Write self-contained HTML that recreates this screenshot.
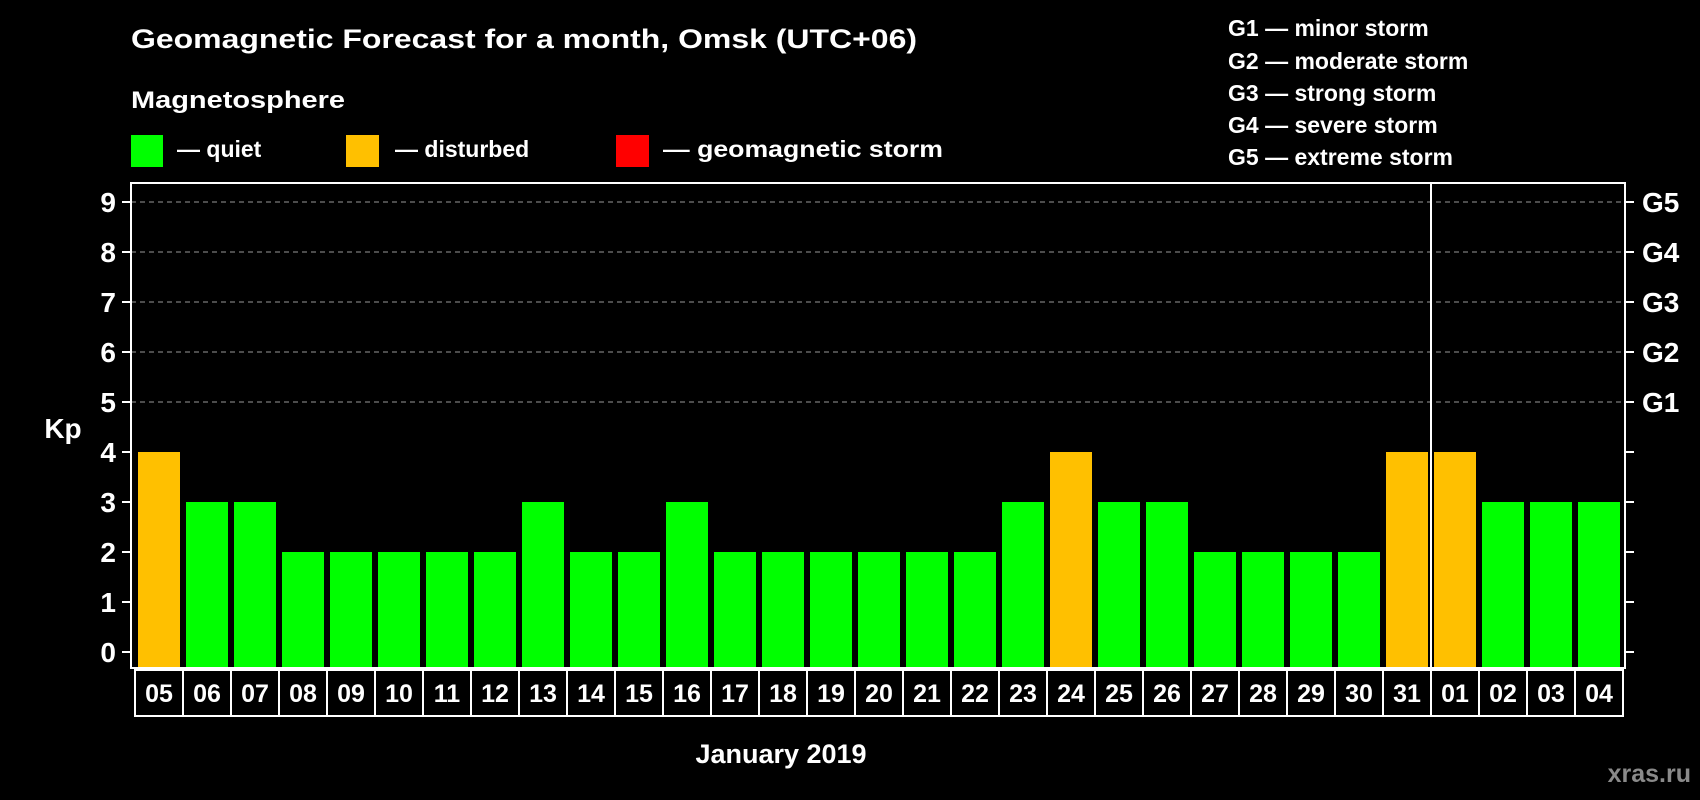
<!DOCTYPE html>
<html><head><meta charset="utf-8"><style>
html,body{margin:0;padding:0;background:#000;}
svg{display:block;font-family:"Liberation Sans",Arial,sans-serif;font-weight:bold;}
</style></head><body>
<svg id="chart" width="1700" height="800" viewBox="0 0 1700 800">
<rect x="0" y="0" width="1700" height="800" fill="#000"/>
<text x="131" y="48" font-size="27" fill="#fff" textLength="786" lengthAdjust="spacingAndGlyphs">Geomagnetic Forecast for a month, Omsk (UTC+06)</text>
<text x="131" y="108" font-size="24" fill="#fff" textLength="214" lengthAdjust="spacingAndGlyphs">Magnetosphere</text>
<g>
<rect x="131" y="135" width="32" height="32" fill="#00ff00"/>
<text x="177" y="157" font-size="23" fill="#fff">— quiet</text></g>
<g>
<rect x="346" y="135" width="33" height="32" fill="#ffc000"/>
<text x="395" y="157" font-size="23" fill="#fff">— disturbed</text></g>
<g>
<rect x="616" y="135" width="33" height="32" fill="#ff0000"/>
<text x="663" y="157" font-size="23" fill="#fff" textLength="280" lengthAdjust="spacingAndGlyphs">— geomagnetic storm</text></g>
<g font-size="23" fill="#fff">
<text x="1228" y="36">G1 — minor storm</text>
<text x="1228" y="69">G2 — moderate storm</text>
<text x="1228" y="101">G3 — strong storm</text>
<text x="1228" y="133">G4 — severe storm</text>
<text x="1228" y="165">G5 — extreme storm</text>
</g>
<g id="grid"></g>
<g id="bars"></g>
<rect x="131" y="183" width="1494" height="485" fill="none" stroke="#fff" stroke-width="2"/>
<g id="axes"></g>
<text x="63" y="438" font-size="28" fill="#fff" text-anchor="middle">Kp</text>
<text x="781" y="763" font-size="27" fill="#fff" text-anchor="middle">January 2019</text>
<text x="1691" y="782" font-size="25" fill="#8a8a8a" text-anchor="end">xras.ru</text>
</svg>
<script>
const days = ["05","06","07","08","09","10","11","12","13","14","15","16","17","18","19","20","21","22","23","24","25","26","27","28","29","30","31","01","02","03","04"];
const kpValues = [4,3,3,2,2,2,2,2,3,2,2,3,2,2,2,2,2,2,3,4,3,3,2,2,2,2,4,4,3,3,3];
const yTicks = [0,1,2,3,4,5,6,7,8,9];
const gLabels = ["","","","","","G1","G2","G3","G4","G5"];
const monthBreakIndex = 27;

const NS = "http://www.w3.org/2000/svg";
const y0 = 652, unit = 50, xStart = 135, pitch = 48, barW = 42;
function yScale(v){ return y0 - v*unit; }
function xScale(i){ return xStart + i*pitch; }
function mk(tag, attrs, parent){
  const el = document.createElementNS(NS, tag);
  for (const k in attrs) el.setAttribute(k, attrs[k]);
  parent.appendChild(el);
  return el;
}
const grid = document.getElementById('grid');
const bars = document.getElementById('bars');
const axes = document.getElementById('axes');

yTicks.forEach((t, i) => {
  const y = yScale(t);
  if (t >= 5) {
    const g = mk('line', {x1:131, x2:1625, y1:y, y2:y, stroke:'#999', 'stroke-width':1, 'stroke-dasharray':'5,4'}, grid);
    
    
  }
  const tl = mk('line', {x1:122, x2:131, y1:y, y2:y, stroke:'#fff', 'stroke-width':2}, axes);
  
  
  const lb = mk('text', {x:116, y:y+10, 'font-size':28, fill:'#fff', 'text-anchor':'end'}, axes);
  lb.textContent = String(t);
  
  
  const tr = mk('line', {x1:1625, x2:1634, y1:y, y2:y, stroke:'#fff', 'stroke-width':2}, axes);
  
  
  if (gLabels[i]) {
    const gl = mk('text', {x:1642, y:y+10, 'font-size':28, fill:'#fff'}, axes);
    gl.textContent = gLabels[i];
    
    
  }
});

kpValues.forEach((v, i) => {
  const x = xScale(i);
  const color = v >= 5 ? '#ff0000' : (v >= 4 ? '#ffc000' : '#00ff00');
  const b = mk('rect', {x:x+3, y:yScale(v), width:barW, height:668-yScale(v), fill:color}, bars);
  
  
  const box = mk('rect', {x:x, y:670, width:pitch, height:46, fill:'none', stroke:'#fff', 'stroke-width':2}, axes);
  
  
  const t = mk('text', {x:x+pitch/2, y:702, 'font-size':25, fill:'#fff', 'text-anchor':'middle'}, axes);
  t.textContent = days[i];
  
  
});

const sepX = xScale(monthBreakIndex);
const sep = mk('line', {x1:sepX, x2:sepX, y1:183, y2:668, stroke:'#fff', 'stroke-width':2}, axes);


</script>
</body></html>
